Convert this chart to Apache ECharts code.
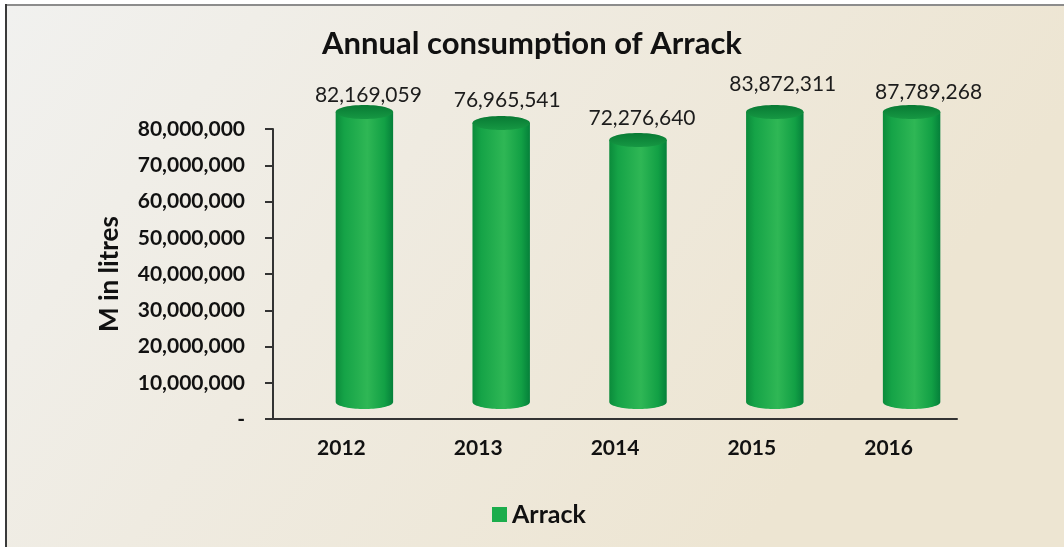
<!DOCTYPE html>
<html>
<head>
<meta charset="utf-8">
<script src="https://cdn.jsdelivr.net/npm/echarts@6/dist/echarts.min.js"></script>
<style>
  html, body { margin: 0; padding: 0; background: #ffffff; }
  #chart { width: 1064px; height: 547px; }
</style>
</head>
<body>
<div id="chart"></div>
<script>
// Annual consumption of Arrack, litres per year
const years = ['2012', '2013', '2014', '2015', '2016'];
const arrack = [82169059, 76965541, 72276640, 83872311, 87789268];
const seriesName = 'Arrack';

// Value axis range
const yMin = 0;
const yMax = 80000000;
const yStep = 10000000;

// Cylinder drawing style
const FONT = 'Lato, "Open Sans", sans-serif';
const DEPTH_X = 23;     // 3D depth shift of the cylinders
const DEPTH_Y = -17;
const BAR_RATIO = 0.42;
const CAP_RY = 7;
// small per-label nudges (dx, dy) from the cylinder top
const labelNudge = [[4, -17], [6, -23], [4, -22], [8, -28], [17, -20]];

const fmt = v => v.toLocaleString('en-US');

function ellipsePts(cx, cy, rx, ry, a0, a1, n) {
  const pts = [];
  for (let i = 0; i <= n; i++) {
    const a = a0 + (a1 - a0) * i / n;
    pts.push([cx + rx * Math.cos(a), cy + ry * Math.sin(a)]);
  }
  return pts;
}

function renderCylinder(params, api) {
  const i = params.dataIndex;
  const raw = api.value(1);
  const v = Math.min(raw, yMax);           // the plot is clipped at the axis maximum
  const base = api.coord([api.value(0), 0]);
  const top = api.coord([api.value(0), v]);
  const bw = api.size([1, 0])[0] * BAR_RATIO;
  const rx = bw / 2;
  const cx = base[0] + DEPTH_X;
  const yb = base[1] + DEPTH_Y;
  const yt = top[1] + DEPTH_Y;

  const body = [[cx - rx, yt]].concat(ellipsePts(cx, yb, rx, CAP_RY, Math.PI, 0, 40));
  body.push([cx + rx, yt]);
  const cap = ellipsePts(cx, yt, rx, CAP_RY, 0, Math.PI * 2, 60);

  const bodyFill = new echarts.graphic.LinearGradient(0, 0, 1, 0, [
    { offset: 0, color: '#0b8b3b' },
    { offset: 0.15, color: '#15a347' },
    { offset: 0.55, color: '#2fb755' },
    { offset: 0.85, color: '#12a045' },
    { offset: 1, color: '#05803a' }
  ]);
  const capFill = new echarts.graphic.LinearGradient(0, 0, 0, 1, [
    { offset: 0, color: '#087a34' },
    { offset: 1, color: '#169843' }
  ]);
  const nudge = labelNudge[i] || [0, -20];

  return {
    type: 'group',
    children: [
      { type: 'polygon', shape: { points: body }, style: { fill: bodyFill } },
      { type: 'polygon', shape: { points: cap }, style: { fill: capFill } },
      {
        type: 'text',
        style: {
          text: fmt(raw),
          x: cx + nudge[0],
          y: yt + nudge[1],
          textAlign: 'center',
          textVerticalAlign: 'middle',
          fontFamily: FONT,
          fontSize: 21,
          fill: '#1c1c1c'
        }
      }
    ]
  };
}

const chart = echarts.init(document.getElementById('chart'), null, { renderer: 'canvas' });

chart.setOption({
  animation: false,
  textStyle: { fontFamily: FONT },
  graphic: [
    {
      type: 'rect', z: -10, silent: true,
      shape: { x: 7, y: 6, width: 1057, height: 541 },
      style: {
        fill: new echarts.graphic.LinearGradient(0, 0, 0.7, 1, [
          { offset: 0, color: '#f1f1ef' },
          { offset: 0.45, color: '#efebe1' },
          { offset: 1, color: '#ede5d2' }
        ])
      }
    },
    { type: 'line', z: -9, silent: true, shape: { x1: 6, y1: 5, x2: 1064, y2: 5 }, style: { stroke: '#8c8c8c', lineWidth: 2 } },
    { type: 'line', z: -9, silent: true, shape: { x1: 6, y1: 4, x2: 6, y2: 547 }, style: { stroke: '#3a3a3a', lineWidth: 2 } }
  ],
  title: {
    text: 'Annual consumption of Arrack',
    left: 'center',
    top: 23,
    textStyle: { fontFamily: FONT, fontWeight: 'bold', fontSize: 31, color: '#111' }
  },
  legend: {
    data: [seriesName],
    left: 487,
    top: 497,
    icon: 'rect',
    itemWidth: 15,
    itemHeight: 15,
    itemGap: 8,
    textStyle: { fontFamily: FONT, fontWeight: 'bold', fontSize: 25, color: '#111' }
  },
  grid: { left: 273, right: 107, top: 129, bottom: 128, containLabel: false },
  xAxis: {
    type: 'category',
    data: years,
    axisLine: { show: true, lineStyle: { color: '#333', width: 2 } },
    axisTick: { show: false },
    axisLabel: { margin: 19, fontFamily: FONT, fontWeight: 'bold', fontSize: 21, color: '#111' },
    splitLine: { show: false }
  },
  yAxis: {
    type: 'value',
    min: yMin,
    max: yMax,
    interval: yStep,
    name: 'M in litres',
    nameLocation: 'middle',
    nameGap: 150,
    nameTextStyle: { fontFamily: FONT, fontWeight: 'bold', fontSize: 26, color: '#111' },
    axisLine: { show: true, lineStyle: { color: '#333', width: 2 } },
    axisTick: { show: true, length: 8, lineStyle: { color: '#333', width: 2 } },
    axisLabel: {
      margin: 28,
      fontFamily: FONT, fontWeight: 'bold', fontSize: 21, color: '#111',
      formatter: v => (v === 0 ? '-' : fmt(v))
    },
    splitLine: { show: false }
  },
  series: [
    {
      name: seriesName,
      type: 'custom',
      renderItem: renderCylinder,
      itemStyle: { color: '#1bad4c' },
      encode: { x: 0, y: 1 },
      data: arrack.map((v, i) => [i, v]),
      z: 3
    }
  ]
});
</script>
</body>
</html>
